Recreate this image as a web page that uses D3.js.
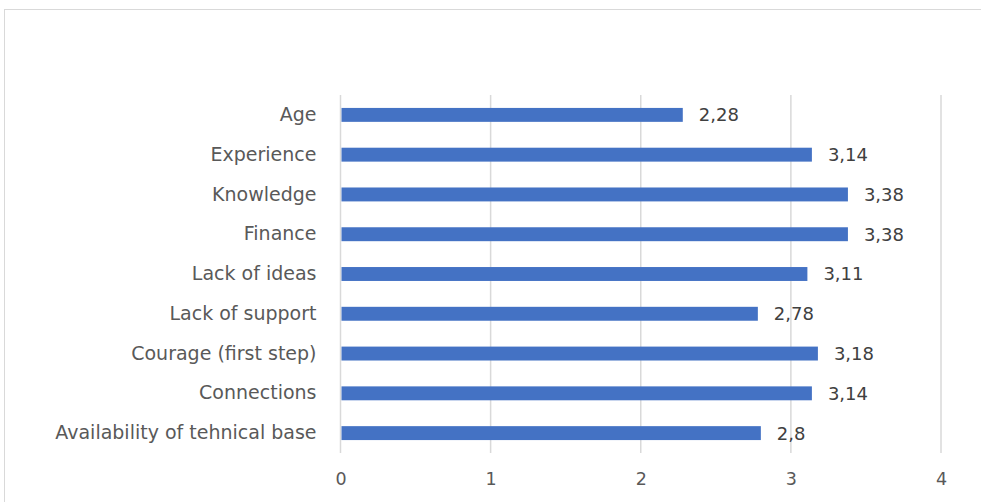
<!DOCTYPE html>
<html><head><meta charset="utf-8">
<script src="https://cdn.jsdelivr.net/npm/d3@7"></script>
<style>body{margin:0;background:#fff}svg{display:block}</style>
</head><body><svg id="c" width="981" height="502"></svg>
<script>
const categories = ["Age","Experience","Knowledge","Finance","Lack of ideas","Lack of support","Courage (first step)","Connections","Availability of tehnical base"];
const values = [2.28,3.14,3.38,3.38,3.11,2.78,3.18,3.14,2.8];
const valueLabels = ["2,28","3,14","3,38","3,38","3,11","2,78","3,18","3,14","2,8"];
const xTicks = [0,1,2,3,4];

const svg = d3.select("#c");
const font = "'DejaVu Sans', sans-serif";
svg.append("rect").attr("x",4.5).attr("y",9.5).attr("width",990).attr("height",520)
  .attr("fill","#fff").attr("stroke","#d9d9d9");

const x = d3.scaleLinear().domain([0,4]).range([340.5,941]);
const y = d3.scaleBand().domain(categories).range([95,453]).paddingInner(0.65).paddingOuter(0.325);

const g = svg.append("g");
g.selectAll("line.grid").data(xTicks).join("line").attr("class","grid")
  .attr("x1",d=>x(d)).attr("x2",d=>x(d)).attr("y1",95).attr("y2",453)
  .attr("stroke","#d9d9d9").attr("stroke-width",1.5);

g.selectAll("rect.bar").data(values).join("rect").attr("class","bar")
  .attr("x",x(0)+1).attr("y",(d,i)=>y(categories[i]))
  .attr("width",d=>x(d)-x(0)-1).attr("height",y.bandwidth())
  .attr("fill","#4472c4");

g.selectAll("text.val").data(values).join("text").attr("class","val")
  .attr("x",d=>x(d)+16).attr("y",(d,i)=>y(categories[i])+y.bandwidth()/2)
  .attr("dy","0.36em").attr("font-family",font).attr("font-size",18).attr("fill","#404040")
  .text((d,i)=>valueLabels[i]);

const yAxis = d3.axisLeft(y).tickSize(0).tickPadding(24);
const ya = svg.append("g").attr("transform",`translate(${x(0)},0)`).call(yAxis);
ya.select(".domain").remove();
ya.selectAll("text").attr("font-family",font).attr("font-size",19).attr("fill","#595959");

const xAxis = d3.axisBottom(x).tickValues(xTicks).tickSize(0).tickPadding(0).tickFormat(d3.format("d"));
const xa = svg.append("g").attr("transform","translate(0,473)").call(xAxis);
xa.select(".domain").remove();
xa.selectAll("text").attr("font-family",font).attr("font-size",17.5).attr("fill","#595959");
</script></body></html>
